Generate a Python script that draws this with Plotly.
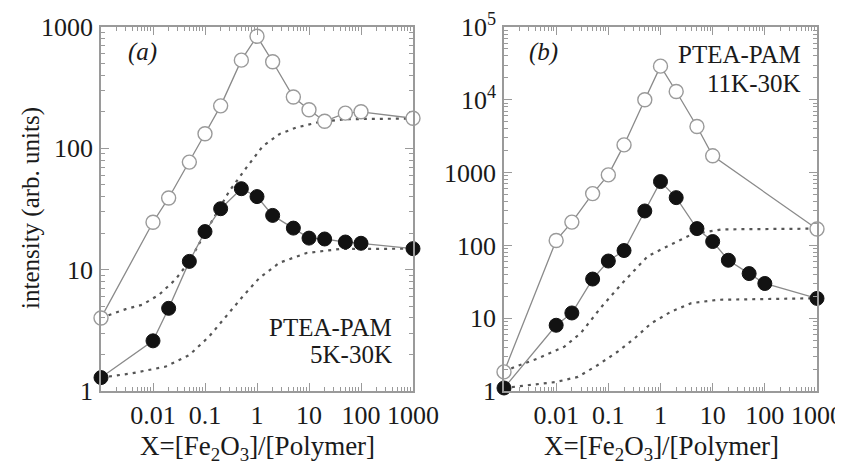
import plotly.graph_objects as go

# ---------------- data ----------------
# panel (a)  PTEA-PAM 5K-30K
xa = [0.001, 0.01, 0.02, 0.05, 0.1, 0.2, 0.5, 1, 2, 5, 10, 20, 50, 100, 1000]
a_open = [4.0, 24.6, 39, 77, 132, 224, 533, 838, 517, 265, 208, 167, 195, 200, 177]
a_filled = [1.29, 2.59, 4.8, 11.7, 20.6, 31.8, 46.5, 40, 28, 22, 18.2, 17.9, 16.9, 16.5, 14.9]

a_fit_hi_x = [0.001, 0.003, 0.0062, 0.013, 0.027, 0.05, 0.1, 0.29, 0.62, 1.29, 2.7, 5.6, 16, 52, 1000]
a_fit_hi_y = [4.0, 4.73, 5.14, 6.2, 8.3, 11.7, 20, 44, 69, 104, 131, 148, 165, 174, 176]
a_fit_lo_x = [0.001, 0.004, 0.0176, 0.05, 0.12, 0.25, 0.53, 1.1, 2.7, 8.9, 39, 1000]
a_fit_lo_y = [1.29, 1.40, 1.59, 1.98, 2.81, 4.1, 6.0, 8.5, 11.4, 13.7, 14.8, 14.9]

# panel (b)  PTEA-PAM 11K-30K
xb_open = [0.001, 0.01, 0.02, 0.05, 0.1, 0.2, 0.5, 1, 2, 5, 10, 1000]
b_open = [1.83, 117, 209, 515, 930, 2400, 10000, 29000, 13000, 4300, 1700, 168]
xb_filled = [0.001, 0.01, 0.02, 0.05, 0.1, 0.2, 0.5, 1, 2, 5, 10, 20, 50, 100, 1000]
b_filled = [1.1, 8.0, 11.8, 34.5, 61, 85, 297, 753, 453, 170, 113, 62.5, 41, 30, 18.7]

b_fit_hi_x = [0.001, 0.0016, 0.0044, 0.0143, 0.03, 0.072, 0.175, 0.23, 0.57, 1.6, 3.9, 15, 1000]
b_fit_hi_y = [1.83, 2.14, 2.79, 4.05, 6.3, 14, 29, 35.6, 71, 103, 141, 166, 170]
b_fit_lo_x = [0.001, 0.01, 0.026, 0.062, 0.15, 0.32, 0.66, 1.6, 3.9, 12.6, 1000]
b_fit_lo_y = [1.1, 1.33, 1.56, 2.26, 3.46, 5.3, 8.5, 12.3, 16.1, 17.9, 18.8]

x_tickvals = [0.01, 0.1, 1, 10, 100, 1000]
x_ticktext = ["0.01", "0.1", "1", "10", "100", "1000"]
ya_tickvals = [1, 10, 100, 1000]
ya_ticktext = ["1", "10", "100", "1000"]
yb_tickvals = [1, 10, 100, 1000, 1e4, 1e5]
yb_ticktext = ["1", "10", "100", "1000", "10<sup>4</sup>", "10<sup>5</sup>"]

# ---------------- styles ----------------
FONT = "Liberation Serif, Times New Roman, Times, serif"
TXT = "#1a1a1a"
FRAME = "#9a9a9a"
LINE = "#8a8a8a"
DOT = "#555555"
MS = 14

fig = go.Figure()


def add_panel(xax, yax, fits, open_x, open_y, fill_x, fill_y):
    for fx, fy in fits:
        fig.add_trace(go.Scatter(x=fx, y=fy, mode="lines", xaxis=xax, yaxis=yax,
                                 line=dict(color=DOT, width=2.2, dash="3px,5px"),
                                 hoverinfo="skip", showlegend=False, cliponaxis=False))
    fig.add_trace(go.Scatter(x=open_x, y=open_y, mode="lines+markers", xaxis=xax, yaxis=yax,
                             line=dict(color=LINE, width=1.3),
                             marker=dict(size=MS, color="white", line=dict(color="#9a9a9a", width=1.4)),
                             showlegend=False, cliponaxis=False))
    fig.add_trace(go.Scatter(x=fill_x, y=fill_y, mode="lines+markers", xaxis=xax, yaxis=yax,
                             line=dict(color=LINE, width=1.3),
                             marker=dict(size=MS, color="#121212", line=dict(color="#121212", width=1)),
                             showlegend=False, cliponaxis=False))


add_panel("x", "y", [(a_fit_hi_x, a_fit_hi_y), (a_fit_lo_x, a_fit_lo_y)], xa, a_open, xa, a_filled)
add_panel("x2", "y2", [(b_fit_hi_x, b_fit_hi_y), (b_fit_lo_x, b_fit_lo_y)],
          xb_open, b_open, xb_filled, b_filled)

# the page body adds an 8 px offset; target positions are in screenshot pixels
OFF = 8
W, H = 843 - OFF, 468 - OFF
L, T = 101 - OFF, 27 - OFF
R = W - (817 - OFF)
B = H - (391 - OFF)
PW, PH = W - L - R, H - T - B


def px(x):
    return (x - OFF - L) / PW


def py(y):
    return (H - B - (y - OFF)) / PH


common_x = dict(type="log", range=[-3, 3], tickvals=x_tickvals, ticktext=x_ticktext,
                showline=True, linecolor=FRAME, linewidth=1.5, mirror="allticks",
                ticks="inside", ticklen=8, tickwidth=1, tickcolor=FRAME,
                minor=dict(ticks="inside", ticklen=4, tickwidth=1, tickcolor=FRAME, dtick="D1", showgrid=False),
                showgrid=False, zeroline=False, ticklabelstandoff=0,
                tickfont=dict(family=FONT, size=26, color=TXT))
common_y = dict(type="log", showline=True, linecolor=FRAME, linewidth=1.5, mirror="allticks",
                ticks="inside", ticklen=8, tickwidth=1, tickcolor=FRAME,
                minor=dict(ticks="inside", ticklen=4, tickwidth=1, tickcolor=FRAME, dtick="D1", showgrid=False),
                showgrid=False, zeroline=False, ticklabelstandoff=1,
                tickfont=dict(family=FONT, size=26, color=TXT), domain=[0, 1])

fig.update_layout(
    width=W, height=H, margin=dict(l=L, r=R, t=T, b=B, autoexpand=False),
    paper_bgcolor="white", plot_bgcolor="white", showlegend=False,
    font=dict(family=FONT, size=24, color=TXT),
    xaxis=dict(common_x, domain=[0, px(413)], anchor="y"),
    xaxis2=dict(common_x, domain=[px(504), 1], anchor="y2"),
    yaxis=dict(common_y, range=[0, 3], tickvals=ya_tickvals, ticktext=ya_ticktext, anchor="x"),
    yaxis2=dict(common_y, range=[0, 5], tickvals=yb_tickvals, ticktext=yb_ticktext, anchor="x2"),
)

ann = [
    dict(text="<i>(a)</i>", x=px(142), y=py(52), xanchor="center", yanchor="middle", size=25),
    dict(text="<i>(b)</i>", x=px(543), y=py(52), xanchor="center", yanchor="middle", size=25),
    dict(text="PTEA-PAM", x=px(394), y=py(327), xanchor="right", yanchor="middle", size=25),
    dict(text="5K-30K", x=px(394), y=py(354), xanchor="right", yanchor="middle", size=25),
    dict(text="PTEA-PAM", x=px(803), y=py(55), xanchor="right", yanchor="middle", size=25),
    dict(text="11K-30K", x=px(803), y=py(83), xanchor="right", yanchor="middle", size=25),
    dict(text="X=[Fe<sub>2</sub>O<sub>3</sub>]/[Polymer]", x=px(257), y=py(448), xanchor="center",
         yanchor="middle", size=27),
    dict(text="X=[Fe<sub>2</sub>O<sub>3</sub>]/[Polymer]", x=px(661), y=py(448), xanchor="center",
         yanchor="middle", size=27),
]
for a in ann:
    fig.add_annotation(text=a["text"], x=a["x"], y=a["y"], xref="paper", yref="paper",
                       xanchor=a["xanchor"], yanchor=a["yanchor"], showarrow=False,
                       font=dict(family=FONT, size=a["size"], color=TXT))

fig.add_annotation(text="intensity (arb. units)", x=px(31), y=py(208), xref="paper", yref="paper",
                   xanchor="center", yanchor="middle", textangle=-90, showarrow=False,
                   font=dict(family=FONT, size=25, color=TXT))

fig.write_html("out.html")
